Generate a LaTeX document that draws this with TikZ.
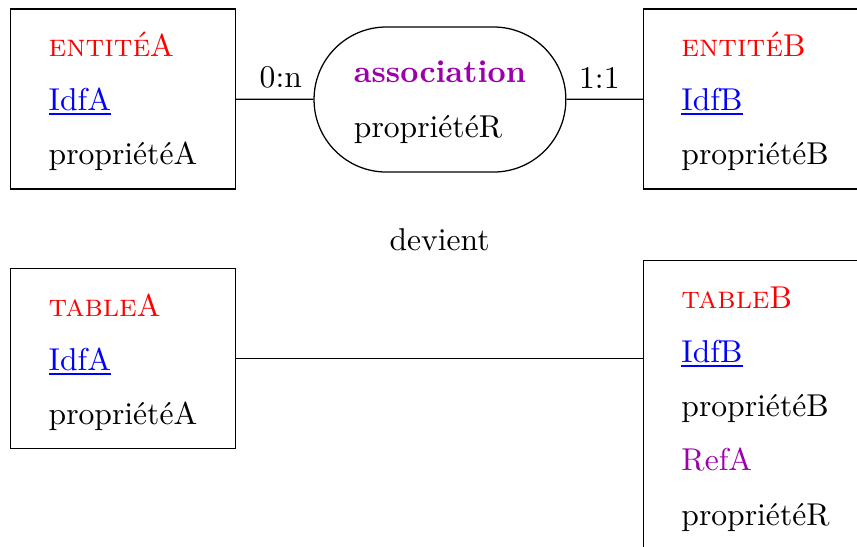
\documentclass[tikz,border=0pt]{standalone}
\usepackage{fontspec}

\definecolor{violetR}{RGB}{155,0,170}
\newcommand{\nomEnt}[1]{\rule{0pt}{9.4pt}\textcolor{red}{#1}}
\newcommand{\idf}[1]{\textcolor{blue}{\setbox0=\hbox{#1}\rlap{\rule[-1.4pt]{\wd0}{0.6pt}}\box0}}

\begin{document}
\begin{tikzpicture}[x=1mm, y=1mm,
  boite/.style={draw, align=left, inner xsep=12pt, inner ysep=5.7pt},
  asso/.style={draw, rectangle, rounded corners=22.9pt, align=left, minimum width=79.7pt, minimum height=45.9pt}]
% Cadre
\path[use as bounding box, clip] (0,0) rectangle (95.33,-60.84);

% MCD
\node[boite] (entA) at (13.68,-11.01) {\nomEnt{\textsc{entité}A}\\[5.15pt] \idf{IdfA}\\[5.15pt] propriétéA};
\node[asso] (assoR) at (48.94,-11.07) {\rule{0pt}{8.56pt}\textcolor{violetR}{\textbf{association}}\\[5.7pt] propriétéR};
\node[boite, anchor=west] (entB) at (71.52,-11.01) {\nomEnt{\textsc{entité}B}\\[5.15pt] \idf{IdfB}\\[5.15pt] propriétéB};

\draw (entA) -- node[above, pos=0.58] {0:n} (assoR);
\draw (assoR) -- node[above, pos=0.43] {1:1} (entB);

\node (devient) at (48.9,-26.7) {devient};

% MLD
\node[boite] (tabA) at (13.68,-39.87) {\nomEnt{\textsc{table}A}\\[5.15pt] \idf{IdfA}\\[5.15pt] propriétéA};
\node[boite, anchor=north west] (tabB) at (71.52,-28.92) {\nomEnt{\textsc{table}B}\\[5.15pt] \idf{IdfB}\\[5.15pt] propriétéB\\[5.15pt] \textcolor{violetR}{RefA}\\[5.15pt] propriétéR};

\draw (tabA.east) -- (tabA.east -| tabB.west);
\end{tikzpicture}
\end{document}
